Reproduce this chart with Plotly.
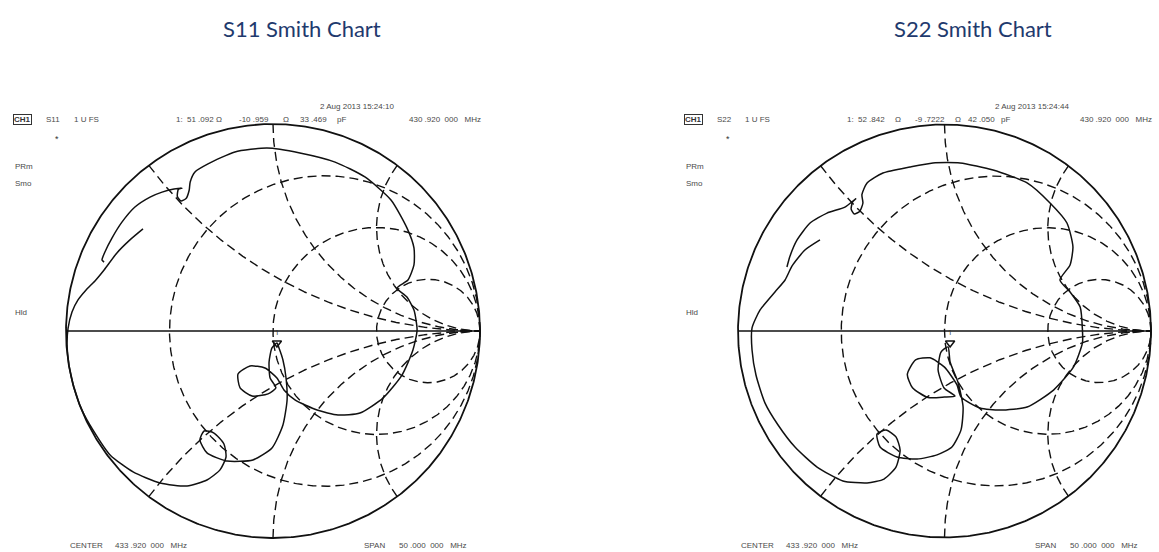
import numpy as np
import plotly.graph_objects as go

W, H = 1159, 552

# ---- Smith chart graticule values ----
r_circles = [1/3, 1, 3]          # constant-resistance circles
x_arcs = [0.5, 1, 2]             # constant-reactance arcs (drawn +/-)

# ---- S11 trace: reflection coefficient (real, imag) ----
s11_re = [-0.628, -0.691, -0.754, -0.816, -0.860, -0.903, -0.942, -0.971, -0.990, -0.995,
          -0.986, -0.961, -0.923, -0.870, -0.787, -0.676, -0.546, -0.415, -0.319, -0.256,
          -0.227, -0.237, -0.285, -0.333, -0.353, -0.319, -0.222, -0.097, -0.005, 0.048,
          0.068, 0.063, 0.048, 0.029, 0.019, -0.005, -0.019, -0.014, 0.014, -0.024,
          -0.101, -0.159, -0.169, -0.111, -0.039, 0.019, 0.053, 0.106, 0.213, 0.314,
          0.420, 0.531, 0.623, 0.676, 0.696, 0.681, 0.647, 0.599, 0.652, 0.681,
          0.681, 0.647, 0.570, 0.444, 0.300, 0.130, -0.029, -0.184, -0.314, -0.377,
          -0.400, -0.405, -0.420, -0.445, -0.462, -0.457, -0.440, -0.478, -0.536, -0.594,
          -0.667, -0.729, -0.778, -0.812, -0.826, -0.816]
s11_im = [0.493, 0.440, 0.377, 0.295, 0.242, 0.198, 0.150, 0.092, 0.014, -0.068,
          -0.164, -0.275, -0.382, -0.478, -0.599, -0.681, -0.734, -0.749, -0.720, -0.671,
          -0.609, -0.546, -0.493, -0.483, -0.527, -0.589, -0.628, -0.623, -0.565, -0.454,
          -0.333, -0.227, -0.140, -0.082, -0.058, -0.082, -0.150, -0.227, -0.275, -0.304,
          -0.314, -0.275, -0.208, -0.169, -0.179, -0.227, -0.285, -0.333, -0.382, -0.406,
          -0.396, -0.324, -0.213, -0.092, 0.005, 0.101, 0.164, 0.208, 0.246, 0.319,
          0.401, 0.498, 0.633, 0.744, 0.816, 0.860, 0.884, 0.865, 0.807, 0.768,
          0.720, 0.680, 0.640, 0.628, 0.650, 0.685, 0.690, 0.686, 0.671, 0.647,
          0.599, 0.527, 0.449, 0.382, 0.343, 0.333]
s11_mkr = [0.019, -0.058]

# ---- S22 trace ----
s22_re = [-0.603, -0.676, -0.738, -0.772, -0.821, -0.893, -0.932, -0.932, -0.913, -0.869,
          -0.806, -0.724, -0.617, -0.492, -0.375, -0.293, -0.235, -0.215, -0.235, -0.283,
          -0.327, -0.312, -0.230, -0.133, -0.036, 0.036, 0.080, 0.090, 0.065, 0.027,
          0.017, -0.017, -0.031, -0.002, 0.051, 0.000, -0.080, -0.155, -0.180, -0.140,
          -0.070, 0.000, 0.060, 0.080, 0.172, 0.269, 0.400, 0.528, 0.625, 0.668,
          0.668, 0.657, 0.608, 0.559, 0.608, 0.622, 0.593, 0.511, 0.400, 0.235,
          0.075, -0.056, -0.167, -0.298, -0.375, -0.400, -0.395, -0.410, -0.437, -0.452,
          -0.445, -0.430, -0.482, -0.569, -0.651, -0.714, -0.748, -0.763]
s22_im = [0.441, 0.392, 0.315, 0.247, 0.189, 0.102, 0.015, -0.092, -0.213, -0.349,
          -0.455, -0.562, -0.659, -0.726, -0.736, -0.717, -0.659, -0.576, -0.513, -0.479,
          -0.499, -0.562, -0.610, -0.620, -0.600, -0.562, -0.479, -0.368, -0.247, -0.150,
          -0.077, -0.102, -0.189, -0.276, -0.315, -0.320, -0.322, -0.275, -0.210, -0.140,
          -0.130, -0.175, -0.260, -0.320, -0.373, -0.383, -0.368, -0.286, -0.174, -0.058,
          0.005, 0.116, 0.189, 0.247, 0.320, 0.407, 0.523, 0.620, 0.717, 0.780,
          0.814, 0.814, 0.794, 0.765, 0.717, 0.660, 0.620, 0.580, 0.567, 0.590,
          0.625, 0.640, 0.600, 0.571, 0.523, 0.441, 0.363, 0.310]
s22_mkr = [0.027, -0.058]

titles = ["S11 Smith Chart", "S22 Smith Chart"]
params = ["S11", "S22"]
dates = ["2 Aug 2013 15:24:10", "2 Aug 2013 15:24:44"]
# marker read-out fields (text, left edge px)
readouts = [
    [("1:", 174), ("51 .092", 185), ("\u03a9", 214), ("-10 .959", 237), ("\u03a9", 281),
     ("33 .469", 298), ("pF", 335)],
    [("1:", 845), ("52 .842", 856), ("\u03a9", 893), ("-9 .7222", 913), ("\u03a9", 953),
     ("42 .050", 966), ("pF", 999)],
]
date_left = [318, 993]
marker_freq = "430 .920  000   MHz"
center_val = "433 .920  000   MHz"
span_val = "50 .000  000   MHz"

# ---- layout geometry (pixels) ----
centers_px = [(273.0, 331.0), (944.5, 331.0)]
radius_px = [207.0, 206.5]

fig = go.Figure()
INK = "#111111"
GRID_DASH = "9px,5px"

def add_chart(k, re, im, mkr):
    xa = "x" if k == 0 else "x2"
    ya = "y" if k == 0 else "y2"
    kw = dict(xaxis=xa, yaxis=ya, mode="lines", hoverinfo="skip", showlegend=False)
    t = np.linspace(0, 2 * np.pi, 721)
    for r in r_circles:
        c, rad = r / (1 + r), 1 / (1 + r)
        fig.add_trace(go.Scatter(x=c + rad * np.cos(t), y=rad * np.sin(t),
                                 line=dict(color=INK, width=1.4, dash=GRID_DASH), **kw))
    u = np.linspace(0, 0.999, 600)
    rr = u / (1 - u)
    for xv in x_arcs:
        for s in (1, -1):
            z = rr + 1j * s * xv
            g = (z - 1) / (z + 1)
            fig.add_trace(go.Scatter(x=g.real, y=g.imag,
                                     line=dict(color=INK, width=1.4, dash=GRID_DASH), **kw))
    fig.add_trace(go.Scatter(x=np.cos(t), y=np.sin(t), line=dict(color=INK, width=1.8), **kw))
    fig.add_trace(go.Scatter(x=[-1, 1], y=[0, 0], line=dict(color=INK, width=1.4), **kw))
    fig.add_trace(go.Scatter(x=re, y=im, line=dict(color=INK, width=1.5, shape="spline", smoothing=0.6), **kw))
    fig.add_trace(go.Scatter(x=[mkr[0]], y=[mkr[1]], xaxis=xa, yaxis=ya, mode="markers+text",
                             marker=dict(symbol="triangle-down-open", size=8, color=INK, line=dict(width=1.5)),
                             text=["1"], textposition="top center", textfont=dict(size=8, color="#333"),
                             hoverinfo="skip", showlegend=False))

add_chart(0, s11_re, s11_im, s11_mkr)
add_chart(1, s22_re, s22_im, s22_mkr)

def axis_setup(k):
    cx, cy = centers_px[k]
    R = radius_px[k]
    x0 = max(cx - 1.06 * R, 0.0)
    x1 = min(cx + 1.06 * R, W)
    y0 = cy - 1.06 * R
    y1 = cy + 1.06 * R
    xr = [(x0 - cx) / R, (x1 - cx) / R]
    yr = [(cy - y1) / R, (cy - y0) / R]
    xd = [x0 / W, x1 / W]
    yd = [1 - y1 / H, 1 - y0 / H]
    common = dict(visible=False, showgrid=False, zeroline=False, fixedrange=True)
    return dict(range=xr, domain=xd, **common), dict(range=yr, domain=yd, **common)

xa1, ya1 = axis_setup(0)
xa2, ya2 = axis_setup(1)

annotations = []
def txt(px, py, s, size=8, color="#4a4a4a", anchor="left", family="Liberation Sans", **extra):
    annotations.append(dict(x=px / W, y=1 - py / H, xref="paper", yref="paper", text=s,
                            showarrow=False, xanchor=anchor, yanchor="middle",
                            font=dict(size=size, color=color, family=family), **extra))

offsets = [0.0, 671.0]
for k in range(2):
    dx = offsets[k]
    txt(302 + dx, 28, titles[k], size=22, color="#1F3A6E", anchor="center", family="Lato")
    txt(date_left[k], 107, dates[k], size=8)
    txt(13 + dx, 120, "<b>CH1</b>", size=8, color="#333", bordercolor="#333", borderwidth=1, borderpad=0)
    txt(44 + dx, 120, params[k], size=8)
    txt(72 + dx, 120, "1 U FS", size=8)
    for s, x0 in readouts[k]:
        txt(x0, 120, s, size=8)
    txt(min(483 + dx, 1157), 120, marker_freq, size=8, anchor="right")
    txt(53 + dx, 139, "*", size=9, color="#333")
    txt(13 + dx, 166, "PRm", size=8)
    txt(13 + dx, 184, "Smo", size=8)
    txt(13 + dx, 312, "Hld", size=8)
    txt(68 + dx, 545, "CENTER", size=8)
    txt(113 + dx, 545, center_val, size=8)
    txt(362 + dx, 545, "SPAN", size=8)
    txt(397 + dx, 545, span_val, size=8)

fig.update_layout(width=W, height=H, margin=dict(l=0, r=0, t=0, b=0),
                  paper_bgcolor="white", plot_bgcolor="rgba(0,0,0,0)",
                  xaxis=xa1, yaxis=ya1, xaxis2=xa2, yaxis2=ya2,
                  annotations=annotations)
fig.write_html("out.html", config={"displayModeBar": False, "staticPlot": True},
               post_script="document.body.style.margin='0px';document.body.style.overflow='hidden';")
